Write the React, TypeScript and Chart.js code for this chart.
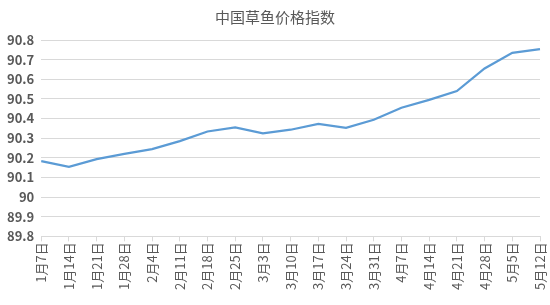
import React, { useEffect, useRef } from "react";
import { Chart, registerables } from "chart.js";

Chart.register(...registerables);

const TITLE = "中国草鱼价格指数";
const categories = [
  "1月7日", "1月14日", "1月21日", "1月28日", "2月4日", "2月11日", "2月18日", "2月25日",
  "3月3日", "3月10日", "3月17日", "3月24日", "3月31日", "4月7日", "4月14日", "4月21日",
  "4月28日", "5月5日", "5月12日",
];
const values = [
  90.183, 90.154, 90.193, 90.22, 90.244, 90.285, 90.334, 90.355,
  90.324, 90.343, 90.373, 90.353, 90.394, 90.455, 90.495, 90.54,
  90.655, 90.735, 90.754,
];
const Y_MIN = 89.8;
const Y_MAX = 90.8;
const Y_STEP = 0.1;

export default function App() {
  const ref = useRef<HTMLCanvasElement | null>(null);
  useEffect(() => {
    document.body.style.margin = "0";
    const ctx = ref.current!;
    const FONT = "'Noto Sans CJK SC', 'Noto Sans', sans-serif";
    const chart = new Chart(ctx, {
      type: "line",
      data: {
        labels: categories,
        datasets: [
          {
            data: values,
            borderColor: "#5B9BD5",
            borderWidth: 2.25,
            pointRadius: 0,
            tension: 0,
            fill: false,
          },
        ],
      },
      options: {
        responsive: false,
        animation: false,
        layout: { padding: { left: 0, right: 0, top: 0, bottom: 14 } },
        plugins: {
          legend: { display: false },
          tooltip: { enabled: false },
          title: {
            display: true,
            text: TITLE,
            color: "#595959",
            font: { family: FONT, size: 15, weight: "normal" },
            padding: { top: 8, bottom: 14 },
          },
        },
        scales: {
          x: {
            offset: false,
            afterFit: (scale: any) => {
              scale.paddingRight = 10;
            },
            grid: {
              drawOnChartArea: false,
              drawTicks: true,
              tickLength: 5,
              color: "#d9d9d9",
            },
            border: { color: "#d9d9d9" },
            ticks: {
              autoSkip: false,
              maxRotation: 90,
              minRotation: 90,
              color: "#595959",
              font: { family: FONT, size: 13 },
              padding: 1,
            },
          },
          y: {
            min: Y_MIN,
            max: Y_MAX,
            grid: { color: "#d9d9d9", drawTicks: false, lineWidth: 1 },
            border: { display: false },
            ticks: {
              stepSize: Y_STEP,
              color: "#595959",
              font: { family: FONT, size: 13, weight: "bold" },
              padding: 7,
              callback: (v: any) => String(Math.round(Number(v) * 10) / 10),
            },
          },
        },
      },
    });
    return () => chart.destroy();
  }, []);
  return <canvas ref={ref} width={550} height={305} style={{ display: "block" }} />;
}
